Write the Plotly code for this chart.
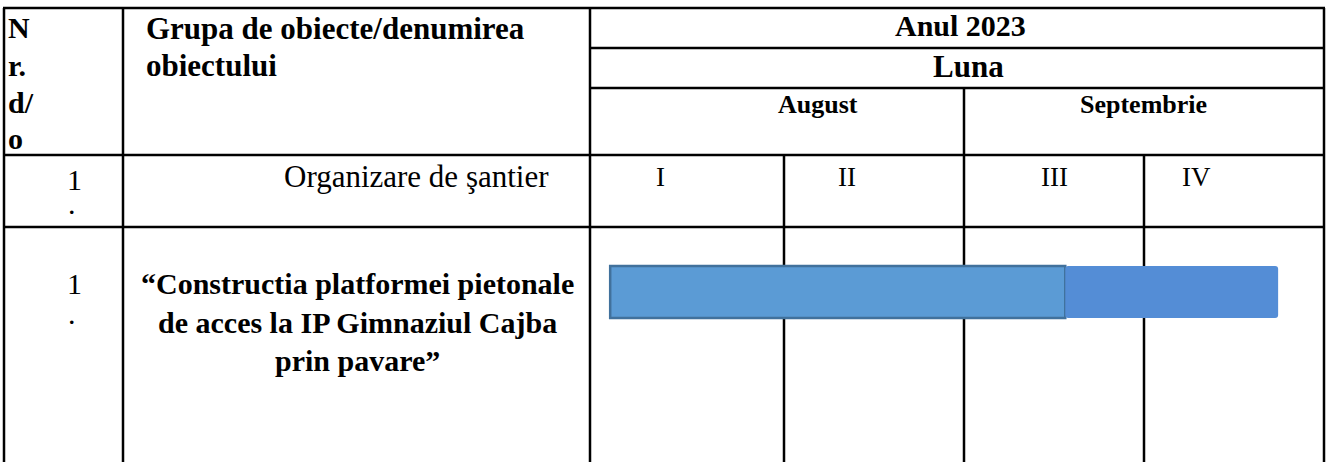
import plotly.graph_objects as go

# ---------------- data ----------------
year_label = "Anul 2023"
month_row_label = "Luna"
months = ["August", "Septembrie"]
weeks = ["I", "II", "III", "IV"]
header_nr = ["N", "r.", "d/", "o"]
header_group = ["Grupa de obiecte/denumirea", "obiectului"]
row1_nr = ["1", "."]
row1_name = "Organizare de şantier"
row2_nr = ["1", "."]
row2_name = ["“Constructia platformei pietonale", "de acces la IP Gimnaziul Cajba", "prin pavare”"]
task = "Constructia platformei pietonale"
seg_start = [0.11, 2.59]   # in weeks (0 = start of week I)
seg_end = [2.59, 3.75]
seg_colors = ["#5B9BD5", "#548DD6"]
seg_line_colors = ["#41719C", "#548DD6"]
seg_line_widths = [2.5, 0]

W, H = 1331, 462
FONT = "Liberation Serif, Times New Roman, serif"

fig = go.Figure()

# ---- Gantt bar on a week axis placed over the week columns ----
for i in range(len(seg_start)):
    fig.add_trace(go.Bar(
        orientation="h",
        y=[task], x=[seg_end[i] - seg_start[i]], base=[seg_start[i]],
        xaxis="x2", yaxis="y2", width=0.4,
        marker=dict(color=seg_colors[i],
                    line=dict(color=seg_line_colors[i], width=seg_line_widths[i]),
                    cornerradius=3 if i == 1 else 0),
        showlegend=False, hoverinfo="skip",
    ))

# ---- table grid (pixel layout axis) ----
L, R, TOP = 4, 1324, 8
c1, c2 = 123, 590
wk = [590, 784, 964, 1144, 1324]
hl = [(L, R, TOP), (c2, R, 48), (c2, R, 88), (L, R, 155), (L, R, 227)]
vl = [(L, TOP, H), (c1, TOP, H), (c2, TOP, H), (R, TOP, H),
      (wk[2], 88, H), (wk[1], 155, H), (wk[3], 155, H)]
for x0, x1, y in hl:
    fig.add_shape(type="line", x0=x0 - 1, x1=x1 + 1, y0=y, y1=y, xref="x", yref="y",
                  line=dict(color="black", width=2.5), layer="below")
for x, y0, y1 in vl:
    fig.add_shape(type="line", x0=x, x1=x, y0=y0, y1=y1, xref="x", yref="y",
                  line=dict(color="black", width=2.5), layer="below")

def txt(s, x, y, size, bold=False, anchor="center"):
    fig.add_annotation(text=("<b>%s</b>" % s) if bold else s, x=x, y=y,
                       xref="x", yref="y", xanchor=anchor, yanchor="middle",
                       showarrow=False, font=dict(family=FONT, size=size, color="black"))

# header
for s, y in zip(header_nr, [27, 65, 102, 138]):
    txt(s, 6, y, 30, bold=True, anchor="left")
for s, y in zip(header_group, [28, 65]):
    txt(s, 144, y, 31, bold=True, anchor="left")
txt(year_label, 960, 25, 30, bold=True)
txt(month_row_label, 968, 66, 31, bold=True)
txt(months[0], 818, 104, 26, bold=True)
txt(months[1], 1143, 104, 26, bold=True)

# row 1
txt(row1_nr[0], 74, 179, 30)
txt(row1_nr[1], 72, 203, 30)
txt(row1_name, 416, 176, 31)
for s, x in zip(weeks, [660, 847, 1054, 1196]):
    txt(s, x, 177, 27)

# row 2
txt(row2_nr[0], 74, 283, 30)
txt(row2_nr[1], 72, 313, 30)
for s, y in zip(row2_name, [283, 322, 360]):
    txt(s, 357, y, 30, bold=True)

fig.update_layout(
    width=W, height=H,
    margin=dict(l=0, r=0, t=0, b=0),
    paper_bgcolor="white", plot_bgcolor="rgba(0,0,0,0)",
    xaxis=dict(range=[0, W], visible=False, domain=[0, 1], fixedrange=True),
    yaxis=dict(range=[H, 0], visible=False, domain=[0, 1], fixedrange=True),
    xaxis2=dict(range=[0, 4], visible=False, anchor="y2",
                domain=[wk[0] / W, wk[-1] / W]),
    yaxis2=dict(range=[-0.5, 0.5], visible=False, anchor="x2",
                domain=[1 - 357 / H, 1 - 227 / H]),
    barmode="overlay",
)

fig.write_html("out.html", config={"displayModeBar": False},
               post_script="document.body.style.margin='0';document.body.style.overflow='hidden';")
